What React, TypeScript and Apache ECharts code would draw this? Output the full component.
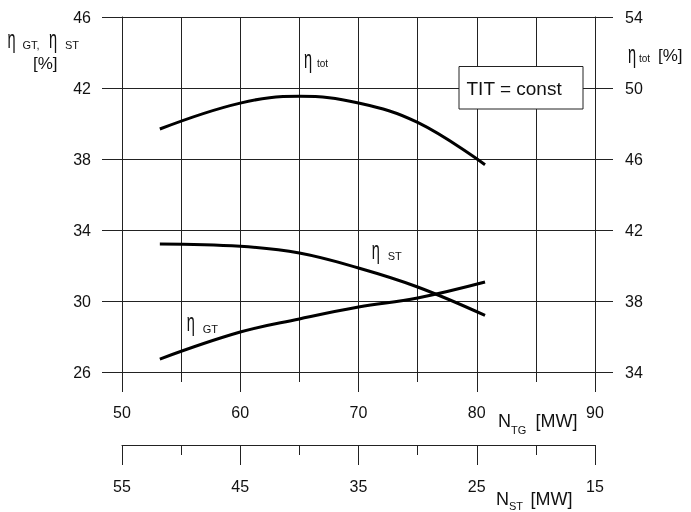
import React, { useEffect, useRef } from "react";
import * as echarts from "echarts";

const nTG = [53.2, 60, 65, 70, 75, 80.7];
const etaTot = [47.69, 49.15, 49.53, 49.15, 48.06, 45.68];
const etaST = [33.21, 33.08, 32.7, 31.86, 30.79, 29.19];
const etaGT = [26.73, 28.25, 28.99, 29.66, 30.17, 31.07];

const FONT = "'Liberation Sans', Arial, sans-serif";
const GRID = "#222";

function eta(x: number, y: number) {
  return {
    type: "text",
    x,
    y,
    scaleX: 0.56,
    z: 100,
    style: { text: "η", font: `26px ${FONT}`, fill: "#111", textAlign: "left", textVerticalAlign: "middle" },
  };
}
function txt(s: string, x: number, y: number, size: number) {
  return {
    type: "text",
    x,
    y,
    z: 100,
    style: { text: s, font: `${size}px ${FONT}`, fill: "#111", textAlign: "left", textVerticalAlign: "middle" },
  };
}

export default function App() {
  const ref = useRef<HTMLDivElement>(null);
  useEffect(() => {
    if (!ref.current) return;
    const chart = echarts.init(ref.current, undefined, { renderer: "svg" });
    const lineStyle = { color: GRID, width: 1 };
    const label = { fontSize: 16, color: "#111", fontFamily: FONT };
    const mk = (ys: number[], yAxisIndex: number) => ({
      type: "line",
      xAxisIndex: 0,
      yAxisIndex,
      smooth: 0.4,
      showSymbol: false,
      lineStyle: { color: "#000", width: 3 },
      data: nTG.map((x, i) => [x, ys[i]]),
      z: 10,
    });
    chart.setOption({
      animation: false,
      grid: { left: 122, right: 96, top: 17, bottom: 140 },
      xAxis: [
        {
          type: "value",
          min: 50,
          max: 90,
          interval: 10,
          position: "bottom",
          axisLine: { show: true, lineStyle },
          axisTick: { show: true, length: 20, lineStyle },
          minorTick: { show: true, splitNumber: 2, length: 10, lineStyle },
          splitLine: { show: true, lineStyle },
          minorSplitLine: { show: true, lineStyle },
          axisLabel: { ...label, margin: 32 },
        },
        {
          type: "value",
          min: 15,
          max: 55,
          interval: 10,
          inverse: true,
          position: "bottom",
          offset: 73,
          axisLine: { show: true, onZero: false, lineStyle },
          axisTick: { show: true, length: 20, lineStyle },
          minorTick: { show: true, splitNumber: 2, length: 10, lineStyle },
          splitLine: { show: false },
          axisLabel: { ...label, margin: 33 },
        },
      ],
      yAxis: [
        {
          type: "value",
          min: 26,
          max: 46,
          interval: 4,
          position: "left",
          axisLine: { show: true, lineStyle },
          axisTick: { show: true, length: 20, lineStyle },
          splitLine: { show: true, lineStyle },
          axisLabel: { ...label, margin: 31 },
        },
        {
          type: "value",
          min: 34,
          max: 54,
          interval: 4,
          position: "right",
          axisLine: { show: true, lineStyle },
          axisTick: { show: true, length: 18, lineStyle },
          splitLine: { show: false },
          axisLabel: { ...label, margin: 30 },
        },
      ],
      series: [mk(etaTot, 1), mk(etaST, 0), mk(etaGT, 0)],
      graphic: [
        {
          type: "rect",
          z: 100,
          shape: { x: 459, y: 66.5, width: 124, height: 42.5 },
          style: { fill: "#fff", stroke: "#222", lineWidth: 1 },
        },
        txt("TIT = const", 466.5, 88, 19),
        // left axis title
        eta(7.5, 38.5),
        txt("GT,", 22.5, 45, 11),
        eta(49, 38.5),
        txt("ST", 65, 45, 11),
        txt("[%]", 33, 63.5, 17),
        // right axis title
        eta(628, 53.5),
        txt("tot", 639, 58.5, 10),
        txt("[%]", 658, 55, 17),
        // curve labels
        eta(304, 58.5),
        txt("tot", 317, 63.5, 10),
        eta(371.7, 249.3),
        txt("ST", 387.7, 256, 11),
        eta(186.7, 321.8),
        txt("GT", 202.7, 329, 11),
        // x axis names
        txt("N", 498, 421, 18),
        txt("TG", 511, 429.5, 11),
        txt("[MW]", 535.5, 421, 18),
        txt("N", 496, 499, 18),
        txt("ST", 509, 506, 11),
        txt("[MW]", 530.5, 499, 18),
      ],
    });
    return () => chart.dispose();
  }, []);
  return <div ref={ref} style={{ position: "fixed", left: 0, top: 0, width: 691, height: 512 }} />;
}
